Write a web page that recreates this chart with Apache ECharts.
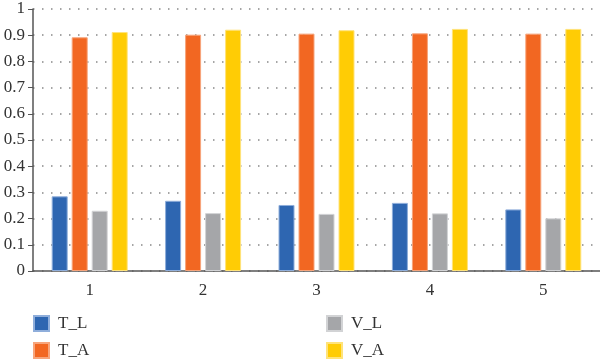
<!DOCTYPE html>
<html>
<head>
<meta charset="utf-8">
<script src="https://cdn.jsdelivr.net/npm/echarts@6/dist/echarts.min.js"></script>
<style>html,body{margin:0;padding:0;background:#fff}#c{width:600px;height:362px}</style>
</head>
<body>
<div id="c"></div>
<script>
var categories = ['1', '2', '3', '4', '5'];
var T_L = [0.285, 0.268, 0.252, 0.260, 0.235];
var T_A = [0.892, 0.902, 0.906, 0.907, 0.906];
var V_L = [0.230, 0.221, 0.218, 0.220, 0.201];
var V_A = [0.912, 0.921, 0.919, 0.924, 0.924];
var yTicks = [0, 0.1, 0.2, 0.3, 0.4, 0.5, 0.6, 0.7, 0.8, 0.9, 1];

var font = 'Liberation Serif';
var chart = echarts.init(document.getElementById('c'), null, {renderer: 'canvas'});
function bar(name, data, color, border) {
  return {
    name: name, type: 'bar', data: data, barWidth: 16, barGap: '25%',
    itemStyle: {color: color, borderColor: border, borderWidth: 1},
    emphasis: {disabled: true}
  };
}
var legendText = {fontFamily: font, fontSize: 17, color: '#333', padding: [0, 0, 0, 4]};
function legend(names, left) {
  return {data: names, orient: 'vertical', left: left, top: 315, height: 47, padding: 0,
    itemWidth: 15, itemHeight: 15, itemGap: 10, textStyle: legendText, icon: 'rect', selectedMode: false};
}
chart.setOption({
  animation: false,
  grid: {left: 33, right: 0, top: 9, bottom: 91},
  legend: [legend(['T_L', 'T_A'], 33), legend(['V_L', 'V_A'], 326)],
  xAxis: {
    type: 'category', data: categories,
    axisLine: {lineStyle: {color: '#555', width: 1.5}},
    axisTick: {show: false},
    axisLabel: {fontFamily: font, fontSize: 17, color: '#333', margin: 11}
  },
  yAxis: {
    type: 'value', min: 0, max: 1, interval: 0.1,
    axisLine: {show: true, lineStyle: {color: '#555', width: 1.5}},
    axisTick: {show: true, length: 5, lineStyle: {color: '#555'}},
    axisLabel: {fontFamily: font, fontSize: 17, color: '#333', margin: 8,
      formatter: function (v) { var r = Math.round(v * 10) / 10; return yTicks.indexOf(r) >= 0 ? String(r) : ''; }},
    splitLine: {show: true, lineStyle: {color: '#888', width: 1.5, type: [1.5, 7.5]}}
  },
  series: [
    bar('T_L', T_L, '#2E66B1', '#8FAEDB'),
    bar('T_A', T_A, '#F26722', '#F7A57C'),
    bar('V_L', V_L, '#A5A6A9', '#D2D3D5'),
    bar('V_A', V_A, '#FFCC05', '#FFE37A')
  ]
});
</script>
</body>
</html>
